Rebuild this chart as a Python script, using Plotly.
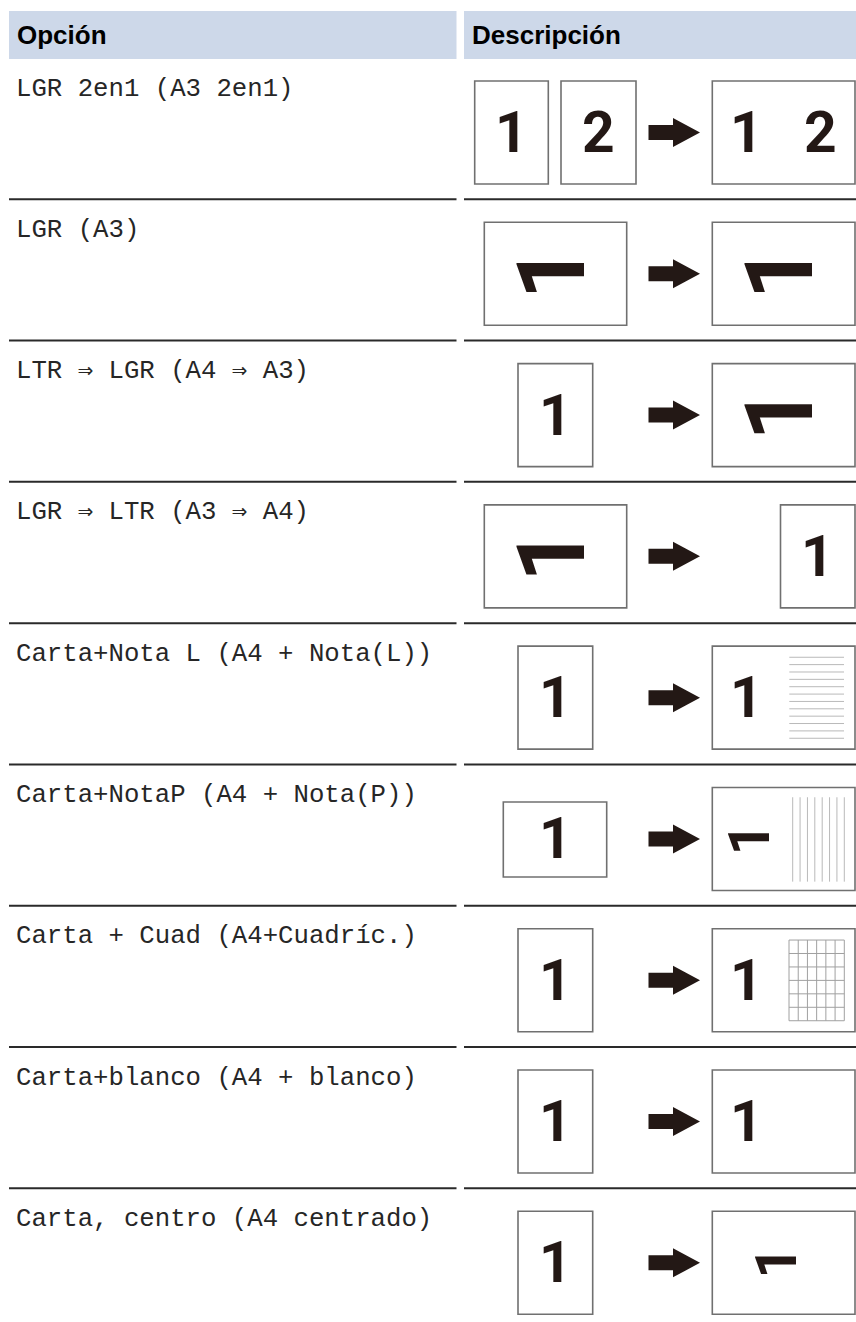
import plotly.graph_objects as go

# ---------------- data ----------------
HEADERS = ["Opción", "Descripción"]
OPTIONS = [
    "LGR 2en1 (A3 2en1)",
    "LGR (A3)",
    "LTR ⇒ LGR (A4 ⇒ A3)",
    "LGR ⇒ LTR (A3 ⇒ A4)",
    "Carta+Nota L (A4 + Nota(L))",
    "Carta+NotaP (A4 + Nota(P))",
    "Carta + Cuad (A4+Cuadríc.)",
    "Carta+blanco (A4 + blanco)",
    "Carta, centro (A4 centrado)",
]
# source page kinds: "2up" = two portrait pages, "portrait", "landscape", "small"
SRC_KIND = ["2up", "landscape", "portrait", "landscape", "portrait", "small", "portrait", "portrait", "portrait"]
# target page kinds
TGT_KIND = ["landscape", "landscape", "landscape", "portrait", "landscape", "landscape", "landscape", "landscape", "landscape"]
# target content: "12" two digits, "1" upright left, "R" big rotated, "r_left" small rotated left, "r_center" small rotated centred
TGT_CONTENT = ["12", "R", "R", "1", "1", "r_left", "1", "1", "r_center"]
# decoration on target page
TGT_MARK = [None, None, None, None, "ruled_h", "ruled_v", "grid", None, None]
RULED_H_COUNT = 12
RULED_V_COUNT = 8
GRID_COUNT = 7

# ---------------- style / layout ----------------
W, H = 856, 1322
HEAD_FILL = "#cdd8e9"
INK = "#231815"
BOX_LINE = "#707070"
RULE = "#2a2a2a"
MONO = "Liberation Mono, Courier New, monospace"
SANS = "Liberation Sans, Arial, sans-serif"
DIGIT_FONT = "Roboto, sans-serif"

ROW0_TOP = 58.0
ROW_STEP = 141.29
COL1 = (9, 456.5)
COL2 = (464, 856)

shapes = []
annots = []


def rect(x0, y0, x1, y1, line=BOX_LINE, lw=1.6, fill="white"):
    shapes.append(dict(type="rect", xref="x", yref="y", x0=x0, y0=y0, x1=x1, y1=y1,
                       line=dict(color=line, width=lw), fillcolor=fill, layer="above"))


def hline(x0, x1, y, color=RULE, lw=2):
    shapes.append(dict(type="line", xref="x", yref="y", x0=x0, x1=x1, y0=y, y1=y,
                       line=dict(color=color, width=lw), layer="above"))


def vline(x, y0, y1, color, lw=1):
    shapes.append(dict(type="line", xref="x", yref="y", x0=x, x1=x, y0=y0, y1=y1,
                       line=dict(color=color, width=lw), layer="above"))


def digit(x, y, t, size=57, angle=0):
    annots.append(dict(x=x, y=y, xref="x", yref="y", text="<b>%s</b>" % t, showarrow=False,
                       xanchor="center", yanchor="middle", textangle=angle,
                       font=dict(family=DIGIT_FONT, size=size, color=INK)))


def arrow(yc):
    x0, xh, xt = 648.5, 673, 700
    p = (f"M {x0},{yc-7.5} L {xh},{yc-7.5} L {xh},{yc-14.5} L {xt},{yc} "
         f"L {xh},{yc+14.5} L {xh},{yc+7.5} L {x0},{yc+7.5} Z")
    shapes.append(dict(type="path", xref="x", yref="y", path=p, fillcolor=INK,
                       line=dict(width=0), layer="above"))


# header
for (x0, x1), txt in zip([COL1, COL2], HEADERS):
    shapes.append(dict(type="rect", xref="x", yref="y", x0=x0, x1=x1, y0=11, y1=59,
                       fillcolor=HEAD_FILL, line=dict(width=0), layer="below"))
    annots.append(dict(x=x0 + 5.5, y=35, xref="x", yref="y", text="<b>%s</b>" % txt,
                       showarrow=False, xanchor="left", yanchor="middle",
                       font=dict(family=SANS, size=26, color="#000000")))

for i, opt in enumerate(OPTIONS):
    top = ROW0_TOP + i * ROW_STEP
    if i > 0:
        hline(COL1[0], COL1[1], top)
        hline(COL2[0], COL2[1], top)
    annots.append(dict(x=14, y=top + 31, xref="x", yref="y", text=opt, showarrow=False,
                       xanchor="left", yanchor="middle",
                       font=dict(family=MONO, size=25.7, color="#262626")))
    yb0, yb1 = top + 23, top + 126
    yc = top + 74.5

    # source
    k = SRC_KIND[i]
    if k == "2up":
        rect(474.7, yb0, 548.3, yb1)
        digit(511.5, yc, "1")
        rect(561, yb0, 636, yb1)
        digit(598.5, yc, "2")
    elif k == "portrait":
        rect(518, yb0, 592.7, yb1)
        digit(555.3, yc, "1")
    elif k == "landscape":
        rect(484.3, yb0, 626.7, yb1)
        digit(552, yc - 1, "1", size=94, angle=-90)
    elif k == "small":
        rect(503.3, top + 37.5, 606.7, top + 112.5)
        digit(555.3, yc, "1")

    arrow(yc)

    # target
    if TGT_KIND[i] == "portrait":
        rect(780.5, yb0, 855, yb1)
        digit(817.7, yc, "1")
    else:
        rect(712.3, yb0, 855, yb1)
        c = TGT_CONTENT[i]
        if c == "12":
            digit(746.5, yc, "1")
            digit(820, yc, "2")
        elif c == "1":
            digit(746, yc, "1")
        elif c == "R":
            digit(780, yc - 1, "1", size=94, angle=-90)
        elif c == "r_left":
            digit(749.5, yc, "1", angle=-90)
        elif c == "r_center":
            digit(777, yc, "1", angle=-90)

        m = TGT_MARK[i]
        if m == "ruled_h":
            ya, yz = top + 34.1, top + 115.1
            for j in range(RULED_H_COUNT):
                y = ya + j * (yz - ya) / (RULED_H_COUNT - 1)
                hline(789.3, 844, y, color="#b9b9b9", lw=1)
        elif m == "ruled_v":
            xa, xz = 792.7, 844.3
            for j in range(RULED_V_COUNT):
                x = xa + j * (xz - xa) / (RULED_V_COUNT - 1)
                vline(x, top + 32.8, top + 117.2, color="#b9b9b9", lw=1)
        elif m == "grid":
            xa, xz = 789, 844.3
            ya, yz = top + 34.3, top + 115
            for j in range(GRID_COUNT):
                x = xa + j * (xz - xa) / (GRID_COUNT - 1)
                vline(x, ya, yz, color="#a0a0a0", lw=1)
                y = ya + j * (yz - ya) / (GRID_COUNT - 1)
                hline(xa, xz, y, color="#a0a0a0", lw=1)

fig = go.Figure(go.Scatter(x=[], y=[]))
fig.update_layout(
    width=W, height=H, autosize=False,
    margin=dict(l=0, r=0, t=0, b=0, pad=0),
    paper_bgcolor="white", plot_bgcolor="white",
    showlegend=False,
    xaxis=dict(range=[0, W], visible=False, fixedrange=True),
    yaxis=dict(range=[H, 0], visible=False, fixedrange=True),
    shapes=shapes, annotations=annots,
)
fig.write_html("out.html", config={"displayModeBar": False},
               post_script="document.body.style.margin='0px';")
